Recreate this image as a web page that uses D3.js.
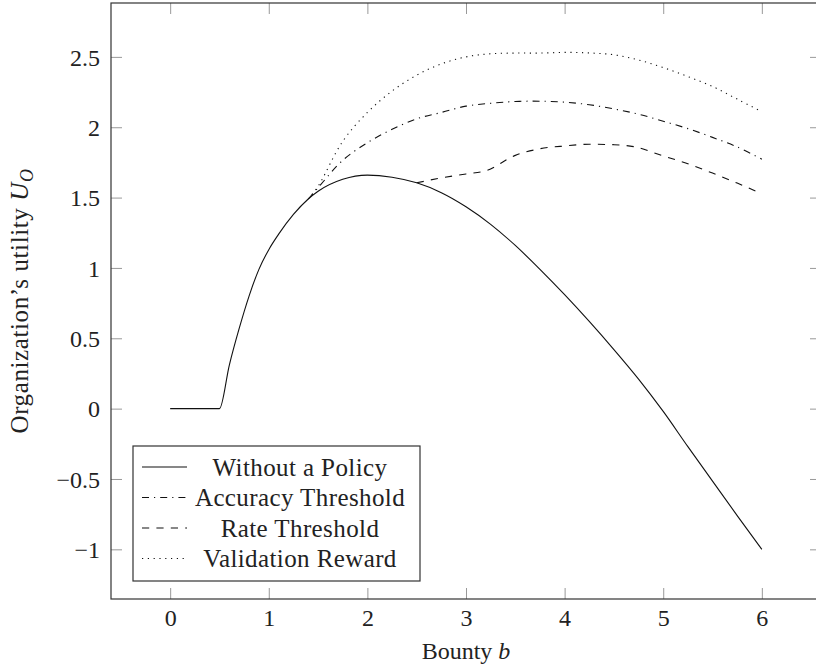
<!DOCTYPE html>
<html>
<head>
<meta charset="utf-8">
<script src="https://cdn.jsdelivr.net/npm/d3@7"></script>
<style>
  body { margin: 0; background: #fff; }
  text { font-family: "Liberation Serif", "Times New Roman", serif; fill: #222; }
</style>
</head>
<body>
<script>
var canvasWidth = 816
var canvasHeight = 671

// data
var xTicks = [0, 1, 2, 3, 4, 5, 6]
var yTicks = [-1, -0.5, 0, 0.5, 1, 1.5, 2, 2.5]

var bounty = [0, 0.5, 0.6, 0.7, 0.8, 0.9, 1.0, 1.1, 1.25, 1.4, 1.5, 1.75, 2.0, 2.25, 2.5, 2.75, 3.0, 3.25, 3.5, 3.75, 4.0, 4.25, 4.5, 4.75, 5.0, 5.25, 5.5, 5.75, 6.0]
var withoutPolicy = [0, 0, 0.31, 0.57, 0.80, 0.99, 1.13, 1.24, 1.38, 1.49, 1.545, 1.63, 1.66, 1.645, 1.605, 1.535, 1.435, 1.31, 1.16, 0.99, 0.81, 0.62, 0.42, 0.21, -0.02, -0.27, -0.515, -0.76, -1.0]

var policyBounty = [1.4, 1.5, 1.75, 2.0, 2.25, 2.5, 2.75, 3.0, 3.25, 3.5, 3.75, 4.0, 4.25, 4.5, 4.75, 5.0, 5.25, 5.5, 5.75, 6.0]
var accuracyThreshold = [1.49, 1.57, 1.765, 1.89, 1.985, 2.06, 2.105, 2.15, 2.17, 2.183, 2.185, 2.178, 2.16, 2.13, 2.093, 2.043, 1.99, 1.928, 1.86, 1.773]
var validationReward = [1.49, 1.58, 1.90, 2.105, 2.257, 2.37, 2.45, 2.50, 2.522, 2.527, 2.527, 2.532, 2.528, 2.515, 2.478, 2.424, 2.36, 2.29, 2.20, 2.11]

var rateBounty = [2.5, 2.75, 3.0, 3.2, 3.5, 3.75, 4.0, 4.25, 4.5, 4.7, 5.0, 5.25, 5.5, 5.75, 6.0]
var rateThreshold = [1.605, 1.64, 1.668, 1.69, 1.80, 1.847, 1.867, 1.879, 1.876, 1.862, 1.796, 1.74, 1.674, 1.603, 1.527]

var seriesNames = ["Without a Policy", "Accuracy Threshold", "Rate Threshold", "Validation Reward"]

var series = [
	{name: seriesNames[0], xs: bounty, ys: withoutPolicy, dash: null, curve: d3.curveMonotoneX},
	{name: seriesNames[1], xs: policyBounty, ys: accuracyThreshold, dash: "7 5 1.2 5", curve: d3.curveCatmullRom.alpha(0.5)},
	{name: seriesNames[2], xs: rateBounty, ys: rateThreshold, dash: "7.2 7.2", curve: d3.curveMonotoneX},
	{name: seriesNames[3], xs: policyBounty, ys: validationReward, dash: "1.2 4.6", curve: d3.curveCatmullRom.alpha(0.5)}
]

var plotLeft = 111, plotRight = 821, plotTop = 3, plotBottom = 599

var x = d3.scaleLinear().domain([-0.6, 6.6]).range([plotLeft, plotRight])
var y = d3.scaleLinear().domain([-1.353, 2.883]).range([plotBottom, plotTop])

var svg = d3.select("body")
			.append("svg")
			.attr("width", canvasWidth)
			.attr("height", canvasHeight)

svg.append("rect")
	.attr("width", canvasWidth)
	.attr("height", canvasHeight)
	.style("fill", "#fff")

function fmt(v) {
	return v < 0 ? "\u2212" + Math.abs(v) : String(v)
}

// inward ticks on all four sides
var tickLen = 11
var bottomAxis = svg.append("g")
	.attr("transform", "translate(0," + plotBottom + ")")
	.call(d3.axisBottom(x).tickValues(xTicks).tickSize(-tickLen).tickFormat(fmt))
var topAxis = svg.append("g")
	.attr("transform", "translate(0," + plotTop + ")")
	.call(d3.axisTop(x).tickValues(xTicks).tickSize(-tickLen).tickFormat(""))
var leftAxis = svg.append("g")
	.attr("transform", "translate(" + plotLeft + ",0)")
	.call(d3.axisLeft(y).tickValues(yTicks).tickSize(-tickLen).tickFormat(fmt))
var rightAxis = svg.append("g")
	.attr("transform", "translate(" + plotRight + ",0)")
	.call(d3.axisRight(y).tickValues(yTicks).tickSize(-tickLen).tickFormat(""))

svg.selectAll(".domain").remove()
svg.selectAll(".tick line").style("stroke", "#999").style("stroke-width", 1)
svg.selectAll(".tick text")
	.style("font-family", '"Liberation Serif", serif')
	.style("font-size", "24px")
	.style("fill", "#222")
bottomAxis.selectAll(".tick text").attr("y", 19).attr("dy", "0.32em")
leftAxis.selectAll(".tick text").attr("x", -11).attr("dy", "0.34em")

series.forEach(function(s) {
	var line = d3.line()
		.x(function(d) { return x(d[0]) })
		.y(function(d) { return y(d[1]) })
		.curve(s.curve)
	var pts = s.xs.map(function(v, i) { return [v, s.ys[i]] })
	svg.append("path")
		.attr("d", line(pts))
		.style("fill", "none")
		.style("stroke", "#111")
		.style("stroke-width", 1.1)
		.style("stroke-dasharray", s.dash)
})

// frame
svg.append("rect")
	.attr("x", plotLeft)
	.attr("y", plotTop)
	.attr("width", plotRight - plotLeft)
	.attr("height", plotBottom - plotTop)
	.style("fill", "none")
	.style("stroke", "#333")
	.style("stroke-width", 1.2)

// axis labels
var xLabel = svg.append("text")
	.attr("x", (plotLeft + plotRight) / 2)
	.attr("y", 659)
	.attr("text-anchor", "middle")
	.style("font-size", "24px")
xLabel.append("tspan").text("Bounty ")
xLabel.append("tspan").style("font-style", "italic").text("b")

var yLabel = svg.append("text")
	.attr("transform", "translate(28," + ((plotTop + plotBottom) / 2) + ") rotate(-90)")
	.attr("text-anchor", "middle")
	.style("font-size", "25px")
	.style("letter-spacing", "0.6px")
yLabel.append("tspan").text("Organization\u2019s utility ")
yLabel.append("tspan").style("font-style", "italic").text("U")
yLabel.append("tspan").style("font-style", "italic").style("font-size", "18px").attr("dy", 5).text("O")

// legend
var legend = svg.append("g")
legend.append("rect")
	.attr("x", 133)
	.attr("y", 446)
	.attr("width", 287)
	.attr("height", 135)
	.style("fill", "#fff")
	.style("stroke", "#333")
	.style("stroke-width", 1.2)

series.forEach(function(s, i) {
	var cy = 467 + i * 30.5
	legend.append("line")
		.attr("x1", 142).attr("x2", 187)
		.attr("y1", cy).attr("y2", cy)
		.style("stroke", "#111")
		.style("stroke-width", 1.1)
		.style("stroke-dasharray", s.dash)
	legend.append("text")
		.attr("x", 300)
		.attr("y", cy)
		.attr("dy", "0.34em")
		.attr("text-anchor", "middle")
		.style("font-size", "25px")
		.style("letter-spacing", "0.4px")
		.text(s.name)
})
</script>
</body>
</html>
